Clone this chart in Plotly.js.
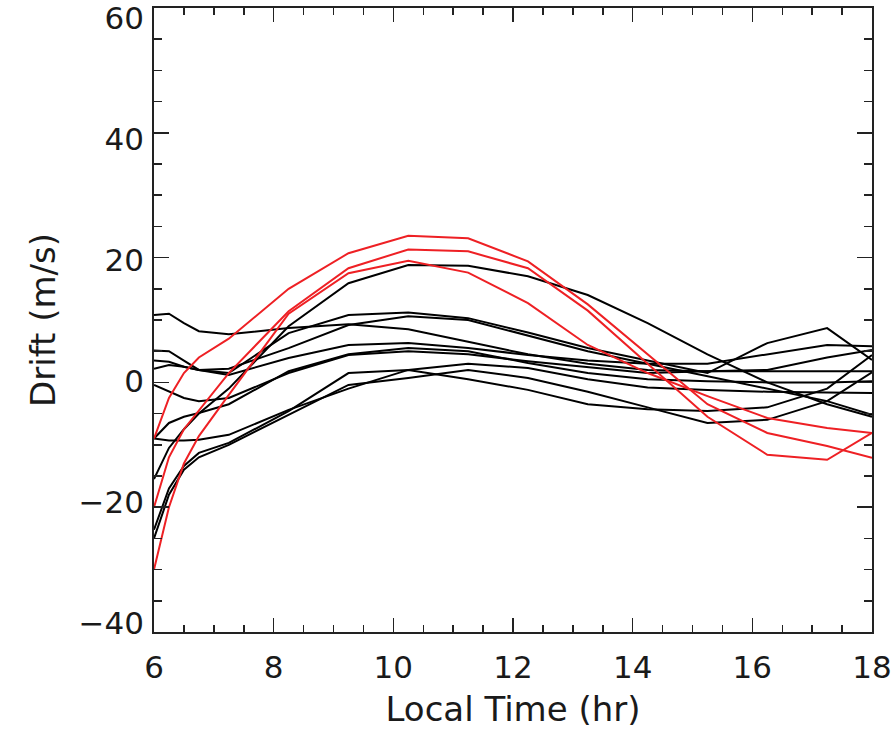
<!DOCTYPE html>
<html>
<head>
<meta charset="utf-8">
<script src="https://cdn.plot.ly/plotly-3.0.1.min.js"></script>
<style>
  html, body { margin: 0; padding: 0; background: #fff; }
  #chart { width: 896px; height: 731px; }
</style>
</head>
<body>
<div id="chart"></div>
<script>
// Local time grid (hr)
const localTime = [6, 6.25, 6.5, 6.75, 7.25, 8.25, 9.25, 10.25, 11.25, 12.25, 13.25, 14.25, 15.25, 16.25, 17.25, 18];

// Black drift curves (m/s)
const black1  = [-15.5, -10.5, -7.5, -5.0, -1.0, 9.0, 15.9, 18.8, 18.7, 17.0, 14.0, 9.5, 4.5, 0.0, -3.5, -5.5];
const black2  = [10.8, 11.0, 9.5, 8.2, 7.7, 8.7, 9.3, 8.5, 6.5, 4.5, 3.0, 2.0, 1.8, 1.8, 1.8, 1.8];
const black3  = [5.1, 5.0, 3.5, 2.0, 1.5, 7.9, 10.8, 11.2, 10.3, 8.0, 5.5, 3.5, 1.5, 6.3, 8.7, 3.6];
const black4  = [3.5, 3.3, 2.5, 2.0, 2.2, 5.5, 9.2, 10.6, 10.0, 7.5, 5.0, 3.0, 1.0, -1.0, -3.0, -5.2];
const black5  = [2.2, 2.8, 2.5, 2.0, 1.2, 3.9, 6.0, 6.3, 5.5, 4.4, 3.5, 3.0, 3.0, 4.5, 6.0, 5.8];
const black6  = [-0.4, -1.5, -2.5, -3.0, -2.5, 1.5, 4.4, 5.0, 4.5, 3.4, 2.5, 1.5, 1.8, 2.0, 4.0, 5.2];
const black7  = [-9.0, -6.5, -5.5, -4.9, -3.5, 1.8, 4.5, 5.5, 5.0, 3.1, 1.5, 0.5, 0.2, 0.0, 0.0, 0.2];
const black8  = [-9.0, -9.3, -9.3, -9.2, -8.4, -4.4, -1.0, 2.0, 3.0, 2.3, 0.5, -0.8, -1.2, -1.5, -1.6, -1.7];
const black9  = [-23.6, -17.0, -13.4, -11.3, -9.7, -4.6, 1.5, 2.0, 0.5, -1.2, -3.5, -4.3, -4.6, -4.0, -1.0, 4.4];
const black10 = [-25.0, -18.0, -14.0, -12.0, -10.0, -5.2, -0.4, 0.7, 2.0, 0.7, -1.5, -4.0, -6.5, -6.0, -3.0, 1.6];

// Red drift curves (m/s)
const red1 = [-9.0, -2.5, 1.5, 4.0, 7.0, 15.0, 20.7, 23.5, 23.1, 19.4, 12.5, 4.5, -3.5, -8.1, -10.2, -12.1];
const red2 = [-20.0, -12.0, -7.5, -4.5, 1.5, 11.4, 18.3, 21.3, 21.0, 18.3, 11.5, 3.0, -5.5, -11.6, -12.4, -8.1];
const red3 = [-30.0, -20.0, -13.0, -8.6, -2.0, 11.0, 17.5, 19.5, 17.6, 12.7, 6.0, 1.5, -2.2, -5.7, -7.3, -8.1];

const blackSeries = [black1, black2, black3, black4, black5, black6, black7, black8, black9, black10];
const redSeries = [red1, red2, red3];

const xTicks = [6, 8, 10, 12, 14, 16, 18];
const yTicks = [-40, -20, 0, 20, 40, 60];
const yTickText = yTicks.map(v => v < 0 ? '\u2212' + Math.abs(v) : String(v));

const traces = [];
blackSeries.forEach(s => traces.push({
  x: localTime, y: s, type: 'scatter', mode: 'lines',
  line: {color: '#000000', width: 2}, hoverinfo: 'skip'
}));
redSeries.forEach(s => traces.push({
  x: localTime, y: s, type: 'scatter', mode: 'lines',
  line: {color: 'rgb(238,32,36)', width: 2}, hoverinfo: 'skip'
}));
// empty trace so the label axis is attached to the plot
traces.push({x: [], y: [], type: 'scatter', mode: 'lines', yaxis: 'y2', hoverinfo: 'skip'});

const fontFam = '"DejaVu Sans", "Liberation Sans", sans-serif';
const tickFont = {family: fontFam, size: 31, color: '#1a1a1a'};
const titleFont = {family: fontFam, size: 34, color: '#1a1a1a'};

const layout = {
  width: 896, height: 731,
  margin: {l: 154, r: 24, t: 8, b: 99},
  paper_bgcolor: '#ffffff', plot_bgcolor: '#ffffff',
  showlegend: false,
  font: {family: fontFam, size: 31, color: '#1a1a1a'},
  xaxis: {
    range: [6, 18], tickvals: xTicks, ticktext: xTicks.map(String),
    ticks: 'inside', ticklen: 14, tickwidth: 1.5, tickcolor: '#222',
    minor: {ticks: 'inside', dtick: 0.5, ticklen: 7, tickwidth: 1.5, tickcolor: '#222'},
    showline: true, linecolor: '#222', linewidth: 2, mirror: 'ticks',
    showgrid: false, zeroline: false,
    tickfont: tickFont,
    ticklabelstandoff: 7,
    title: {text: 'Local Time (hr)', font: titleFont, standoff: 13}
  },
  yaxis: {
    range: [-40, 60], tickvals: yTicks, showticklabels: false,
    ticks: 'inside', ticklen: 15, tickwidth: 1.5, tickcolor: '#222',
    minor: {ticks: 'inside', dtick: 5, ticklen: 8, tickwidth: 1.5, tickcolor: '#222'},
    showline: true, linecolor: '#222', linewidth: 2, mirror: 'ticks',
    showgrid: false, zeroline: false
  },
  // label axis: the reference draws its y labels slightly pulled toward the centre
  yaxis2: {
    overlaying: 'y', side: 'left', anchor: 'x',
    range: [-41.4, 61.73], tickvals: yTicks, ticktext: yTickText,
    ticks: '', showline: false, showgrid: false, zeroline: false,
    tickfont: tickFont, ticklabelstandoff: 9, ticklabeloverflow: 'allow',
    title: {text: 'Drift (m/s)', font: titleFont, standoff: 12}
  }
};

Plotly.newPlot('chart', traces, layout, {staticPlot: true, displayModeBar: false});
</script>
</body>
</html>
